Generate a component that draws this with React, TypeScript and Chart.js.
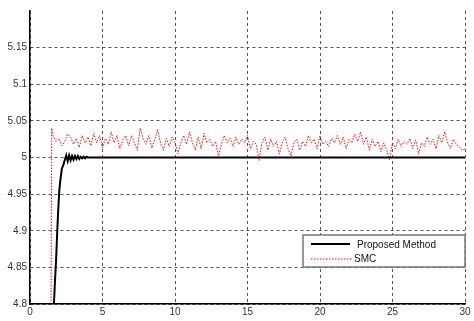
import React, { useEffect, useRef } from "react";
import { Chart, registerables } from "chart.js";

Chart.register(...registerables);

const xTicks = [0, 5, 10, 15, 20, 25, 30];
const yTicks = [4.8, 4.85, 4.9, 4.95, 5, 5.05, 5.1, 5.15, 5.2];

const propTime = [0, 1.65, 1.72, 1.8, 1.88, 1.95, 2.02, 2.1, 2.2, 2.3, 2.4, 2.5, 2.6, 2.7, 2.8, 2.9, 3.0, 3.1, 3.2, 3.3, 3.4, 3.5, 3.6, 3.7, 3.8, 3.9, 4.0, 30];
const propValue = [4.8, 4.8, 4.83, 4.86, 4.9, 4.93, 4.955, 4.97, 4.985, 4.99, 4.997, 5.003, 4.995, 5.003, 4.996, 5.002, 4.997, 5.002, 4.998, 5.002, 4.998, 5.001, 4.999, 5.001, 4.999, 5.001, 5.0, 5.0];

const smcStart = [0, 1.45, 1.5];
const smcStartValue = [4.8, 4.8, 5.04];
const smcValue = [
  5.03, 5.022, 5.026, 5.016, 5.022,
  5.032, 5.028, 5.018, 5.026, 5.014,
  5.03, 5.02, 5.028, 5.016, 5.033,
  5.02, 5.03, 5.013, 5.026, 5.018,
  5.035, 5.02, 5.03, 5.012, 5.024,
  5.03, 5.016, 5.03, 5.02, 5.01,
  5.04, 5.026, 5.018, 5.03, 5.013,
  5.024, 5.038, 5.02, 5.01, 5.026,
  5.015, 5.028, 5.02, 5.005, 5.02,
  5.03, 5.018, 5.035, 5.02, 5.01,
  5.028, 5.012, 5.033, 5.02, 5.025,
  5.015, 5.022, 5.002, 5.018, 5.03,
  5.02, 5.026, 5.015, 5.028, 5.018,
  5.025, 5.02, 5.03, 5.012, 5.022,
  5.018, 4.996, 5.02, 5.028, 5.01,
  5.025, 5.015, 5.022, 5.005, 5.02,
  5.028, 5.012, 5.002, 5.02, 5.025,
  5.01, 5.022, 5.015, 5.03, 5.02,
  5.025, 5.012, 5.03, 5.018, 5.022,
  5.015, 5.026, 5.02, 5.03, 5.018,
  5.028, 5.012, 5.025, 5.02, 5.032,
  5.022, 5.035, 5.018, 5.028, 5.01,
  5.025, 5.015, 5.022, 5.008, 5.02,
  5.01, 4.997, 5.02, 5.012, 5.025,
  5.015, 5.022, 5.018, 5.026, 5.012,
  5.024, 5.005, 5.02, 5.015, 5.028,
  5.018, 5.025, 5.012, 5.03, 5.02,
  5.035, 5.02, 5.012, 5.025, 5.018,
  5.015, 5.01, 5.012
];
const smcFirstTime = 1.6;
const smcStep = 0.2;

const seriesNames = ["Proposed Method", "SMC"];

const FONT = "'Liberation Sans', Arial, sans-serif";

export default function App() {
  const ref = useRef<HTMLCanvasElement>(null);

  useEffect(() => {
    const propData = propTime.map((t, i) => ({ x: t, y: propValue[i] }));
    const smcData = [
      ...smcStart.map((t, i) => ({ x: t, y: smcStartValue[i] })),
      ...smcValue.map((v, i) => ({ x: Math.min(30, +(smcFirstTime + i * smcStep).toFixed(2)), y: v })),
    ];

    const legendPlugin = {
      id: "boxLegend",
      afterDraw(chart: any) {
        const ctx = chart.ctx;
        const area = chart.chartArea;
        const right = area.right;
        const left = right - 162;
        const top = 235;
        const h = 32;
        ctx.save();
        ctx.fillStyle = "#ffffff";
        ctx.fillRect(left, top, right - left, h);
        ctx.strokeStyle = "#777777";
        ctx.lineWidth = 1.5;
        ctx.strokeRect(left, top, right - left, h);
        ctx.strokeStyle = "#000000";
        ctx.lineWidth = 2;
        ctx.setLineDash([]);
        ctx.beginPath();
        ctx.moveTo(left + 8, top + 9);
        ctx.lineTo(left + 47, top + 9);
        ctx.stroke();
        ctx.strokeStyle = "#ff0000";
        ctx.lineWidth = 1;
        ctx.setLineDash([1.5, 1.5]);
        ctx.beginPath();
        ctx.moveTo(left + 8, top + 24);
        ctx.lineTo(left + 49, top + 24);
        ctx.stroke();
        ctx.setLineDash([]);
        ctx.fillStyle = "#111111";
        ctx.font = `10px ${FONT}`;
        ctx.textBaseline = "middle";
        ctx.textAlign = "left";
        ctx.fillText(seriesNames[0], left + 54, top + 10);
        ctx.fillText(seriesNames[1], left + 51, top + 24);
        ctx.restore();
      },
    };

    const chart = new Chart(ref.current!, {
      type: "line",
      data: {
        datasets: [
          {
            label: seriesNames[1],
            data: smcData,
            borderColor: "#ff0000",
            borderWidth: 1,
            borderDash: [1.5, 1.5],
            pointRadius: 0,
            tension: 0,
            order: 2,
          },
          {
            label: seriesNames[0],
            data: propData,
            borderColor: "#000000",
            borderWidth: 2,
            pointRadius: 0,
            tension: 0,
            order: 1,
          },
        ],
      },
      options: {
        animation: false,
        responsive: false,
        maintainAspectRatio: false,
        layout: { padding: { left: 0, right: 9, top: 11, bottom: 0 } },
        plugins: { legend: { display: false }, tooltip: { enabled: false } },
        scales: {
          x: {
            type: "linear",
            min: 0,
            max: 30,
            afterBuildTicks: (s: any) => {
              s.ticks = xTicks.map((v) => ({ value: v }));
            },
            afterFit: (s: any) => {
              s.height = 17;
            },
            ticks: {
              color: "#333333",
              font: { family: FONT, size: 10 },
              padding: 2,
              maxRotation: 0,
              callback: (v: any) => String(v),
            },
            grid: { color: "#555555", lineWidth: 1, drawTicks: false },
            border: { display: true, color: "#000000", width: 1.5, dash: [3, 3] },
          },
          y: {
            type: "linear",
            min: 4.8,
            max: 5.2,
            afterBuildTicks: (s: any) => {
              s.ticks = yTicks.map((v) => ({ value: v }));
            },
            afterFit: (s: any) => {
              s.width = 30;
            },
            ticks: {
              color: "#333333",
              font: { family: FONT, size: 10 },
              padding: 3,
              callback: (v: any) => (Math.abs(v - 5.2) < 1e-6 ? "" : String(+(+v).toFixed(2))),
            },
            grid: {
              color: (c: any) => (c.tick && Math.abs(c.tick.value - 5.2) < 1e-6 ? "rgba(0,0,0,0)" : "#555555"),
              lineWidth: 1,
              drawTicks: false,
            },
            border: { display: true, color: "#000000", width: 1.5, dash: [3, 3] },
          },
        },
      },
      plugins: [legendPlugin],
    });
    return () => chart.destroy();
  }, []);

  return (
    <div style={{ position: "fixed", left: 0, top: 0, width: 474, height: 321, background: "#fff" }}>
      <canvas ref={ref} width={474} height={321} style={{ width: 474, height: 321 }} />
    </div>
  );
}
